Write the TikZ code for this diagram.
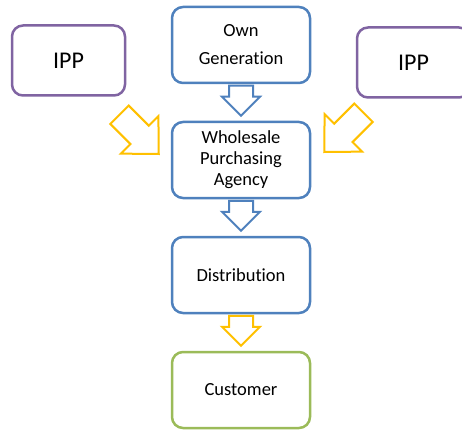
\documentclass[tikz,border=0pt]{standalone}
\usepackage{fontspec}
\setmainfont{Carlito}[Ligatures={NoCommon}]
\usetikzlibrary{calc}
\definecolor{officeblue}{RGB}{79,129,189}
\definecolor{officepurple}{RGB}{128,100,162}
\definecolor{officegreen}{RGB}{155,187,89}
\definecolor{officeyellow}{RGB}{255,192,0}

\tikzset{
    downarrow/.pic={\path[pic actions] (0,0) -- (-19,-19) -- (-12,-19) -- (-12,-30) -- (12,-30) -- (12,-19) -- (19,-19) -- cycle;},
    slantarrow/.pic={\path[pic actions] (0,0) -- (-26.5,-27) -- (-13,-27) -- (-13,-55.5) -- (13,-55.5) -- (13,-27) -- (26.5,-27) -- cycle;}
}

\begin{document}
\begin{tikzpicture}[
    x=1pt, y=-1pt,
    block/.style={rectangle, draw=officeblue, line width=2.5pt, rounded corners=11pt, fill=white,
        minimum width=138pt, minimum height=76pt, align=center, font=\fontsize{18.5}{21}\selectfont},
    ippblock/.style={block, draw=officepurple, minimum width=113pt, minimum height=70pt, font=\fontsize{24}{28}\selectfont},
    bluearrow/.style={draw=officeblue, fill=white, line width=2pt, line join=miter},
    yellowarrow/.style={draw=officeyellow, fill=white, line width=2pt, line join=miter}
]
    \clip (0,0) rectangle (462,430);

    % Supply chain
    \node[block] (own) at (241,45) {Own\\[7pt]Generation};
    \node[block] (whole) at (241,160) {Wholesale\\Purchasing\\Agency};
    \node[block] (dist) at (241,275) {Distribution};
    \node[block, draw=officegreen] (cust) at (241,390) {Customer};

    % Independent producers
    \node[ippblock] (ipp_left) at (68.5,60.5) {IPP};
    \node[ippblock] (ipp_right) at (413.5,62.5) {IPP};

    % Block arrows
    \pic[bluearrow] at ($(whole.north)+(0,-5)$) {downarrow};
    \pic[bluearrow] at ($(dist.north)+(0,-5)$) {downarrow};
    \pic[yellowarrow] at ($(cust.north)+(0,-5)$) {downarrow};
    \pic[yellowarrow, rotate=45] at ($(whole.west)+(-12,-6)$) {slantarrow};
    \pic[yellowarrow, rotate=-45] at ($(whole.east)+(13,-8)$) {slantarrow};
\end{tikzpicture}
\end{document}
